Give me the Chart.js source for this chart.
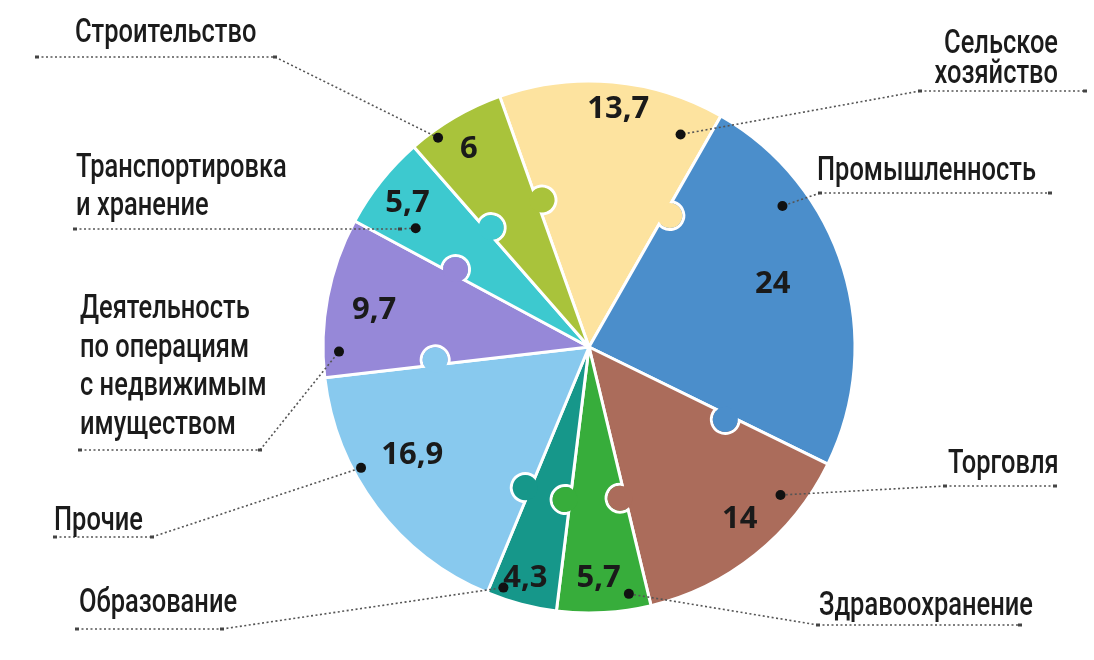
<!DOCTYPE html>
<html>
<head>
<meta charset="utf-8">
<script src="https://cdn.jsdelivr.net/npm/chart.js@4"></script>
<style>
    html, body { margin: 0; padding: 0; background: #fff; }
    #wrap { width: 1094px; height: 660px; }
</style>
</head>
<body>
<div id="wrap"><canvas id="sectorChart" width="1094" height="660"></canvas></div>
<script>
// data, clockwise from the top
const categories = ['Сельское хозяйство', 'Промышленность', 'Торговля', 'Здравоохранение', 'Образование',
    'Прочие', 'Деятельность по операциям с недвижимым имуществом', 'Транспортировка и хранение', 'Строительство'];
const shares = [13.7, 24, 14, 5.7, 4.3, 16.9, 9.7, 5.7, 6];
const valueLabels = ['13,7', '24', '14', '5,7', '4,3', '16,9', '9,7', '5,7', '6'];
const labelLines = [
    ['Сельское', 'хозяйство'],
    ['Промышленность'],
    ['Торговля'],
    ['Здравоохранение'],
    ['Образование'],
    ['Прочие'],
    ['Деятельность', 'по операциям', 'с недвижимым', 'имуществом'],
    ['Транспортировка', 'и хранение'],
    ['Строительство'],
];

const colors = ['#fde39f', '#4b8ecb', '#ab6c5b', '#37ad3b', '#16978a', '#88c9ee', '#9688d8', '#3dc9cf', '#a9c33b'];

// where the value and the dot sit inside each slice: [fraction of the sweep, fraction of the radius]
const valuePlace = [[0.54, 0.90], [0.48, 0.73], [0.45, 0.86], [0.54, 0.87], [0.54, 0.90], [0.59, 0.78], [0.47, 0.82], [0.49, 0.87], [0.46, 0.87]];
const dotPlace = [[0.87, 0.87], [0.28, 0.90], [0.23, 0.91], [0.21, 0.94], [0.81, 0.96], [0.65, 0.97], [0.16, 0.94], [0.30, 0.79], [0.25, 0.97]];

// label blocks: text anchor, line height, underline, elbow of the leader
const labelLayout = [
    {x: 1058, y: 53, align: 'right', lh: 30, under: [920, 1085, 91], elbow: [920, 91]},
    {x: 817, y: 180, align: 'left', lh: 30, under: [820, 1050, 193], elbow: [820, 193]},
    {x: 948, y: 473, align: 'left', lh: 30, under: [945, 1055, 486], elbow: [945, 486]},
    {x: 819, y: 615, align: 'left', lh: 30, under: [818, 1020, 625], elbow: [818, 625]},
    {x: 79, y: 612, align: 'left', lh: 30, under: [77, 222, 629], elbow: [222, 629]},
    {x: 54, y: 530, align: 'left', lh: 30, under: [55, 152, 537], elbow: [152, 537]},
    {x: 80, y: 318, align: 'left', lh: 38.5, under: [80, 260, 450], elbow: [260, 450]},
    {x: 76, y: 177, align: 'left', lh: 38, under: [75, 400, 229], elbow: [400, 229]},
    {x: 75, y: 42, align: 'left', lh: 30, under: [37, 275, 57], elbow: [275, 57]},
];

const labelFont = '500 34px Roboto, "Noto Sans", sans-serif';
const valueFont = 'bold 31px "Open Sans", "Liberation Sans", sans-serif';
// the source face is condensed: squeeze so that "Промышленность" is about 220px wide
const refWord = 'Промышленность', refWidth = 219;

const polar = (arc, frac, rfrac) => {
    const a = arc.startAngle + frac * (arc.endAngle - arc.startAngle);
    const r = rfrac * arc.outerRadius;
    return [arc.x + r * Math.cos(a), arc.y + r * Math.sin(a)];
};

const puzzlePlugin = {
    id: 'puzzle',
    afterDatasetsDraw(chart) {
        const ctx = chart.ctx;
        const arcs = chart.getDatasetMeta(0).data;
        const d = 5, kr = 14;
        arcs.forEach((arc, i) => {
            const a = arc.endAngle;
            const rk = arc.outerRadius * 0.58;
            ctx.save();
            ctx.translate(arc.x + rk * Math.cos(a), arc.y + rk * Math.sin(a));
            ctx.rotate(a);
            // white rim only on the neighbour's side
            ctx.save();
            ctx.beginPath();
            ctx.rect(-60, 0, 120, 60);
            ctx.clip();
            ctx.beginPath();
            ctx.arc(0, d, kr, 0, Math.PI * 2);
            ctx.lineWidth = 3;
            ctx.strokeStyle = '#fff';
            ctx.stroke();
            ctx.restore();
            ctx.beginPath();
            ctx.arc(0, d, kr - 1.5, 0, Math.PI * 2);
            ctx.fillStyle = colors[i];
            ctx.fill();
            ctx.restore();
        });
    },
    afterDraw(chart) {
        const ctx = chart.ctx;
        const arcs = chart.getDatasetMeta(0).data;
        ctx.save();
        ctx.font = labelFont;
        const squeeze = refWidth / ctx.measureText(refWord).width;
        arcs.forEach((arc, i) => {
            const lay = labelLayout[i];
            const [dx, dy] = polar(arc, dotPlace[i][0], dotPlace[i][1]);

            // leader
            ctx.strokeStyle = '#555';
            ctx.lineWidth = 1.6;
            ctx.setLineDash([2, 2.5]);
            ctx.beginPath();
            ctx.moveTo(lay.under[0], lay.under[2]);
            ctx.lineTo(lay.under[1], lay.under[2]);
            ctx.stroke();
            ctx.beginPath();
            ctx.moveTo(lay.elbow[0], lay.elbow[1]);
            ctx.lineTo(dx, dy);
            ctx.stroke();
            ctx.setLineDash([]);
            ctx.fillStyle = '#444';
            ctx.fillRect(lay.under[0] - 2, lay.under[2] - 1.5, 4, 3);
            ctx.fillRect(lay.under[1] - 2, lay.under[2] - 1.5, 4, 3);

            ctx.fillStyle = '#111';
            ctx.beginPath();
            ctx.arc(dx, dy, 5, 0, Math.PI * 2);
            ctx.fill();

            // category text
            ctx.save();
            ctx.font = labelFont;
            ctx.textAlign = lay.align;
            ctx.textBaseline = 'alphabetic';
            ctx.fillStyle = '#1b1b1b';
            ctx.translate(lay.x, 0);
            ctx.scale(squeeze, 1);
            labelLines[i].forEach((line, k) => ctx.fillText(line, 0, lay.y + k * lay.lh));
            ctx.restore();

            // value
            const [vx, vy] = polar(arc, valuePlace[i][0], valuePlace[i][1]);
            ctx.font = valueFont;
            ctx.textAlign = 'center';
            ctx.textBaseline = 'middle';
            ctx.fillStyle = '#1a1a1a';
            ctx.fillText(valueLabels[i], vx, vy);
        });
        ctx.restore();
    }
};

const ctx = document.getElementById('sectorChart').getContext('2d');
new Chart(ctx, {
    type: 'pie',
    data: {
        labels: categories,
        datasets: [{
            data: shares,
            backgroundColor: colors,
            borderColor: '#ffffff',
            borderWidth: 3,
            hoverOffset: 0,
        }],
    },
    options: {
        responsive: false,
        animation: false,
        rotation: -19.6,
        radius: 266,
        layout: {padding: {left: 84, right: 0, top: 34, bottom: 0}},
        plugins: {
            legend: {display: false},
            tooltip: {enabled: false},
        },
    },
    plugins: [puzzlePlugin],
});
</script>
</body>
</html>
